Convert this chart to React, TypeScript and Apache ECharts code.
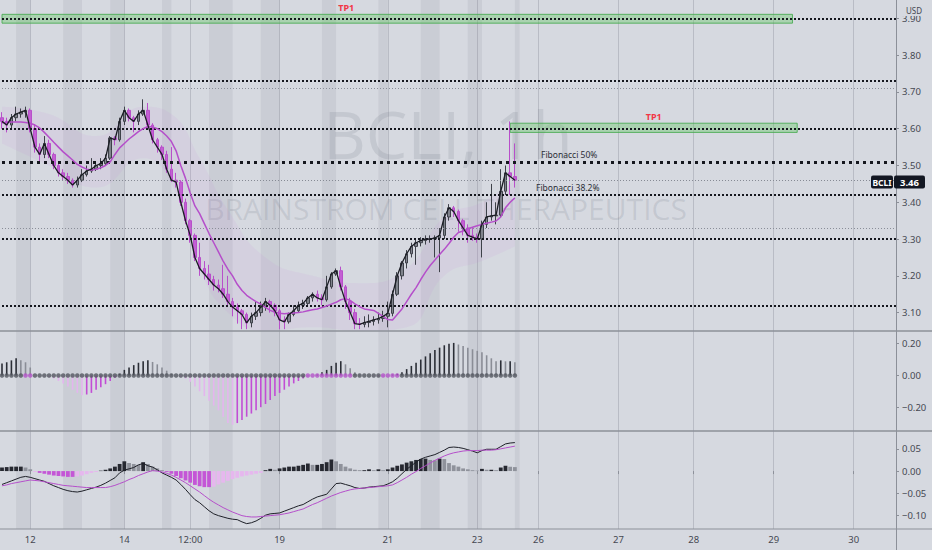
import React, { useEffect, useRef } from 'react';
import * as echarts from 'echarts';

// ---------- data ----------
const N = 191; // bar slots incl. empty future area
const firstOpen = 3.63;
const closes = [3.62,3.61,3.63,3.64,3.645,3.65,3.60,3.55,3.53,3.56, 3.53,3.50,3.48,3.47,3.46,3.447,3.46,3.475,3.485,3.49, 3.50,3.505,3.52,3.575,3.57,3.62,3.65,3.63,3.62,3.64, 3.65,3.61,3.57,3.55,3.53,3.49,3.46,3.455,3.40,3.35, 3.31,3.25,3.22,3.205,3.19,3.175,3.165,3.15,3.13,3.115, 3.105,3.095,3.072,3.09,3.10,3.115,3.13,3.12,3.105,3.08, 3.075,3.095,3.105,3.12,3.125,3.14,3.15,3.14,3.135,3.17, 3.205,3.214,3.17,3.13,3.10,3.07,3.068,3.073,3.076,3.08, 3.084,3.09,3.098,3.15,3.20,3.235,3.26,3.28,3.29,3.296, 3.30,3.30,3.303,3.31,3.36,3.385,3.375,3.35,3.33,3.31, 3.305,3.30,3.34,3.36,3.363,3.365,3.43,3.48,3.47,3.46];
const highs = [3.645,3.63,3.64,3.66,3.655,3.66,3.655,3.61,3.56,3.58, 3.57,3.535,3.51,3.49,3.48,3.465,3.47,3.49,3.50,3.52, 3.51,3.52,3.53,3.58,3.58,3.63,3.66,3.655,3.635,3.65, 3.68,3.67,3.615,3.575,3.555,3.54,3.55,3.48,3.46,3.41, 3.355,3.315,3.29,3.24,3.23,3.20,3.19,3.23,3.20,3.14, 3.125,3.11,3.10,3.10,3.13,3.13,3.14,3.135,3.125,3.11, 3.09,3.10,3.12,3.13,3.135,3.145,3.155,3.16,3.15,3.20, 3.21,3.22,3.225,3.175,3.14,3.11,3.085,3.09,3.095,3.09, 3.10,3.105,3.13,3.16,3.21,3.24,3.27,3.29,3.30,3.305, 3.31,3.31,3.31,3.33,3.37,3.395,3.39,3.38,3.355,3.34, 3.33,3.315,3.35,3.40,3.45,3.40,3.49,3.50,3.62,3.56];
const lows = [3.60,3.59,3.60,3.62,3.63,3.63,3.59,3.535,3.51,3.52, 3.52,3.49,3.47,3.46,3.45,3.44,3.44,3.455,3.47,3.48, 3.485,3.49,3.50,3.515,3.555,3.565,3.61,3.62,3.59,3.61, 3.635,3.60,3.56,3.535,3.515,3.48,3.455,3.44,3.39,3.34, 3.29,3.24,3.20,3.19,3.175,3.16,3.155,3.14,3.115,3.09, 3.07,3.055,3.055,3.06,3.08,3.09,3.105,3.10,3.09,3.055, 3.055,3.07,3.09,3.10,3.11,3.12,3.13,3.13,3.12,3.13, 3.165,3.20,3.16,3.11,3.08,3.055,3.055,3.06,3.06,3.065, 3.07,3.075,3.06,3.09,3.145,3.19,3.22,3.25,3.23,3.28, 3.285,3.29,3.25,3.21,3.30,3.35,3.36,3.32,3.31,3.29, 3.295,3.29,3.25,3.33,3.35,3.34,3.36,3.42,3.42,3.44];
const maSlow = [3.616,3.617,3.618,3.618,3.618,3.617,3.615,3.61,3.602,3.59, 3.577,3.563,3.55,3.537,3.526,3.515,3.503,3.496,3.49,3.488, 3.49,3.494,3.50,3.51,3.53,3.548,3.56,3.572,3.582,3.592, 3.60,3.606,3.605,3.60,3.592,3.58,3.565,3.54,3.50,3.465, 3.425,3.39,3.369,3.342,3.315,3.29,3.265,3.24,3.218,3.20, 3.177,3.16,3.147,3.138,3.13,3.123,3.114,3.106,3.101,3.098, 3.097,3.098,3.099,3.10,3.102,3.105,3.108,3.11,3.114,3.118, 3.123,3.128,3.135,3.138,3.133,3.124,3.116,3.11,3.108,3.106, 3.098,3.09,3.081,3.08,3.095,3.11,3.13,3.15,3.168,3.19, 3.21,3.228,3.243,3.258,3.272,3.288,3.305,3.318,3.322,3.328, 3.332,3.336,3.34,3.343,3.346,3.349,3.36,3.385,3.40,3.412];
const bandIdx = [0,10,20,30,36,42,48,56,66,76,86,94,102,109];
const bandUpper = [3.66,3.64,3.58,3.66,3.64,3.52,3.38,3.25,3.20,3.18,3.22,3.36,3.40,3.46];
const bandLower = [3.56,3.50,3.44,3.52,3.45,3.22,3.10,3.05,3.06,3.05,3.06,3.20,3.24,3.28];

const squeeze = [0.076,0.083,0.095,0.108,0.095,0.083,0.05,0.0,0.0,-0.005, -0.01,-0.02,-0.035,-0.05,-0.07,-0.09,-0.11,-0.125,-0.12,-0.11, -0.09,-0.075,-0.055,-0.035,-0.015,0.01,0.035,0.05,0.065,0.08, 0.09,0.095,0.085,0.07,0.05,0.03,0.01,0.0,-0.01,-0.02, -0.04,-0.07,-0.10,-0.13,-0.16,-0.19,-0.22,-0.26,-0.30,-0.31, -0.30,-0.28,-0.26,-0.24,-0.22,-0.20,-0.18,-0.155,-0.13,-0.11, -0.09,-0.07,-0.05,-0.035,-0.02,-0.005,0.0,0.005,0.02,0.035, 0.06,0.08,0.09,0.07,0.045,0.02,0.005,0.0,0.0,-0.005, -0.005,-0.005,0.0,0.005,0.01,0.02,0.04,0.06,0.08,0.10, 0.12,0.14,0.16,0.175,0.19,0.20,0.205,0.195,0.185,0.175, 0.165,0.155,0.146,0.127,0.108,0.089,0.095,0.089,0.089,0.083];
const squeezeDotPurple = [5,6,65,66,67,68,69,70,71,72,73,74,81,82,83,84];

const macdHist = [0.008,0.009,0.010,0.010,0.010,0.008,0.004,-0.002,-0.004,-0.006, -0.008,-0.010,-0.011,-0.012,-0.013,-0.013,-0.012,-0.010,-0.007,-0.004, -0.002,0.001,0.003,0.006,0.010,0.016,0.022,0.018,0.016,0.014, 0.020,0.016,0.010,0.006,0.002,-0.002,-0.006,-0.011,-0.016,-0.021, -0.026,-0.031,-0.034,-0.036,-0.036,-0.035,-0.030,-0.026,-0.022,-0.018, -0.015,-0.012,-0.010,-0.008,-0.006,-0.004,0.002,0.005,0.003,0.006, 0.008,0.010,0.010,0.012,0.014,0.017,0.014,0.014,0.016,0.020, 0.026,0.022,0.016,0.010,0.006,0.003,0.002,0.002,0.004,0.002, 0.004,0.002,0.004,0.008,0.012,0.015,0.019,0.022,0.025,0.027, 0.028,0.025,0.024,0.028,0.027,0.018,0.013,0.010,0.006,0.004, 0.002,0.001,0.005,0.003,0.003,0.002,0.008,0.012,0.010,0.009];
const macdLine = [-0.030,-0.026,-0.022,-0.018,-0.014,-0.012,-0.014,-0.017,-0.020,-0.023, -0.028,-0.033,-0.037,-0.041,-0.044,-0.046,-0.047,-0.045,-0.042,-0.039, -0.036,-0.032,-0.027,-0.021,-0.015,-0.004,0.002,0.005,0.008,0.014, 0.017,0.012,0.009,0.003,-0.004,-0.009,-0.014,-0.020,-0.030,-0.041, -0.053,-0.064,-0.071,-0.080,-0.089,-0.096,-0.100,-0.103,-0.106,-0.108, -0.109,-0.114,-0.118,-0.116,-0.112,-0.106,-0.099,-0.096,-0.095,-0.094, -0.090,-0.086,-0.082,-0.078,-0.075,-0.069,-0.063,-0.058,-0.055,-0.052, -0.040,-0.028,-0.027,-0.030,-0.033,-0.037,-0.039,-0.038,-0.036,-0.035, -0.034,-0.033,-0.029,-0.024,-0.016,-0.006,0.004,0.012,0.020,0.027, 0.031,0.034,0.037,0.042,0.047,0.053,0.054,0.053,0.051,0.048, 0.045,0.041,0.046,0.049,0.049,0.049,0.055,0.061,0.063,0.064];
const signalLine = [-0.033,-0.031,-0.028,-0.026,-0.024,-0.022,-0.020,-0.021,-0.022,-0.024, -0.026,-0.028,-0.030,-0.032,-0.033,-0.034,-0.035,-0.036,-0.037,-0.037, -0.037,-0.037,-0.037,-0.035,-0.032,-0.028,-0.024,-0.019,-0.015,-0.010, -0.006,-0.002,0.001,0.000,-0.002,-0.005,-0.009,-0.014,-0.020,-0.026, -0.033,-0.040,-0.047,-0.055,-0.063,-0.070,-0.076,-0.082,-0.087,-0.092, -0.096,-0.100,-0.102,-0.103,-0.103,-0.102,-0.101,-0.100,-0.099,-0.098, -0.096,-0.094,-0.091,-0.088,-0.085,-0.080,-0.075,-0.071,-0.066,-0.061, -0.056,-0.052,-0.048,-0.045,-0.042,-0.040,-0.039,-0.038,-0.037,-0.036, -0.035,-0.034,-0.033,-0.031,-0.026,-0.020,-0.014,-0.007,-0.001,0.006, 0.012,0.018,0.024,0.029,0.034,0.038,0.041,0.043,0.045,0.046, 0.046,0.046,0.047,0.047,0.047,0.048,0.050,0.052,0.054,0.056];

const tickIdx = [6, 26, 40, 59, 82, 101, 114, 131, 147, 164, 181];
const tickText = ['12', '14', '12:00', '19', '21', '23', '26', '27', '28', '29', '30'];
const stripes = [[3,6],[13,17],[23,26],[34,36],[44,49],[55,59],[68,71],[80,82],[89,93],[99,102],[109,110]];
const thickLevels = [3.90, 3.734, 3.602, 3.42, 3.304, 3.122];
const fibLevel = 3.51;
const thinLevels = [3.705, 3.326];
const lastPrice = 3.455;
const lastPriceText = '3.46';
const tpBoxes = [
  { from: 0, to: 168, top: 3.911, bottom: 3.887, labelShift: -51 },
  { from: 108, to: 169, top: 3.615, bottom: 3.59, labelShift: 0 },
];

// ---------- styling ----------
const BG = '#d6d9e0';
const AXIS = '#8c9099';
const TXT = '#454852';
const PURPLE = '#b54fca';
const FONT = 'Noto Sans';

const fmt = (v: number) => (v < 0 ? '\u2212' : '') + Math.abs(v).toFixed(2);

export default function App() {
  const ref = useRef<HTMLDivElement>(null);

  useEffect(() => {
    if (!ref.current) return;
    const chart = echarts.init(ref.current, undefined, { renderer: 'svg' });
    const cats = Array.from({ length: N }, (_, i) => String(i));
    const tickSet = new Set(tickIdx);
    const labelMap: Record<number, string> = {};
    tickIdx.forEach((t, k) => (labelMap[t] = tickText[k]));

    const candles = closes.map((c, i) => [i === 0 ? firstOpen : closes[i - 1], c, lows[i], highs[i]]);

    const sqData = squeeze.map((v, i) => {
      const prev = i === 0 ? v : squeeze[i - 1];
      let color;
      if (v >= 0) color = v >= prev ? '#2b2e36' : '#8a8d96';
      else color = Math.abs(v) > Math.abs(prev) ? '#e4b5ee' : '#c24dd5';
      return { value: v, itemStyle: { color } };
    });
    const dotData = squeeze.map((_, i) => ({
      value: [i, 0],
      itemStyle: { color: squeezeDotPurple.includes(i) ? '#b352c8' : '#53565f' },
    }));
    const histData = macdHist.map((v, i) => {
      const prev = i === 0 ? v : macdHist[i - 1];
      let color;
      if (v >= 0) color = v >= prev ? '#262830' : '#8f929b';
      else color = Math.abs(v) >= Math.abs(prev) ? '#c456d6' : '#e6b7ee';
      return { value: v, itemStyle: { color } };
    });

    const grids = [
      { left: 2, right: 36, top: 0, height: 331 },
      { left: 2, right: 36, top: 331, height: 100 },
      { left: 2, right: 36, top: 431, height: 98 },
    ];
    const xAxes = [0, 1, 2].map((k) => ({
      type: 'category',
      gridIndex: k,
      data: cats,
      boundaryGap: false,
      axisLine: { show: false },
      axisTick: {
        show: k === 2,
        interval: (i: number) => tickSet.has(i),
        length: 3,
        lineStyle: { color: AXIS },
      },
      axisLabel: {
        show: k === 2,
        interval: (i: number) => tickSet.has(i),
        formatter: (_v: string, i: number) => labelMap[i] ?? '',
        color: TXT,
        fontSize: 9.5,
        fontFamily: FONT,
        margin: 5,
      },
      splitLine: {
        show: true,
        interval: (i: number) => tickSet.has(i),
        lineStyle: { color: 'rgba(150,154,165,0.45)', width: 1 },
      },
    }));
    const yCommon = (k: number, min: number, max: number, splitNumber: number) => ({
      type: 'value',
      gridIndex: k,
      position: 'right',
      min,
      max,
      splitNumber,
      scale: true,
      splitLine: { show: false },
      axisLine: { show: true, lineStyle: { color: AXIS } },
      axisTick: { show: true, length: 3, lineStyle: { color: AXIS } },
      axisLabel: {
        color: TXT,
        fontSize: 9.5,
        fontFamily: FONT,
        margin: 6,
        showMinLabel: false,
        showMaxLabel: false,
        formatter: (v: number) => fmt(v),
      },
    });
    const yAxes = [yCommon(0, 3.05, 3.95, 9), yCommon(1, -0.35, 0.28, 3), yCommon(2, -0.13, 0.09, 4)];

    const stripeSeries = (k: number) => ({
      type: 'line',
      xAxisIndex: k,
      yAxisIndex: k,
      data: [],
      silent: true,
      z: 1,
      markArea: {
        silent: true,
        itemStyle: { color: 'rgba(120,124,138,0.13)' },
        data: stripes.map(([a, b]) => [{ xAxis: a }, { xAxis: b }]),
      },
    });

    const thick = { color: '#15171e', width: 1.8, type: [2, 2] };
    const markLines = [
      ...thickLevels.map((v) => ({ yAxis: v, lineStyle: thick })),
      { yAxis: fibLevel, lineStyle: { color: '#15171e', width: 3, type: [3, 4] } },
      ...thinLevels.map((v) => ({ yAxis: v, lineStyle: { color: '#8a8e98', width: 1, type: [1, 2] } })),
      { yAxis: lastPrice, lineStyle: { color: '#868a94', width: 1, type: [1, 2] } },
    ];

    const tpAreas = tpBoxes.map((b) => [
      {
        xAxis: b.from,
        yAxis: b.top,
        itemStyle: { color: 'rgba(110,200,110,0.42)', borderColor: 'rgba(70,170,80,0.85)', borderWidth: 1 },
        label: {
          show: true,
          formatter: 'TP1',
          position: 'top',
          distance: 2,
          offset: [b.labelShift, 0],
          color: '#f23645',
          fontSize: 9,
          fontWeight: 'bold',
          fontFamily: FONT,
        },
      },
      { xAxis: b.to, yAxis: b.bottom },
    ]);

    const option: any = {
      animation: false,
      backgroundColor: BG,
      textStyle: { fontFamily: FONT },
      grid: grids,
      xAxis: xAxes,
      yAxis: yAxes,
      series: [
        stripeSeries(0),
        stripeSeries(1),
        stripeSeries(2),
        {
          type: 'line',
          xAxisIndex: 0,
          yAxisIndex: 0,
          stack: 'band',
          data: bandIdx.map((x, k) => [x, bandLower[k]]),
          smooth: true,
          symbol: 'none',
          lineStyle: { opacity: 0 },
          silent: true,
          z: 1,
        },
        {
          type: 'line',
          xAxisIndex: 0,
          yAxisIndex: 0,
          stack: 'band',
          data: bandIdx.map((x, k) => [x, bandUpper[k] - bandLower[k]]),
          smooth: true,
          symbol: 'none',
          lineStyle: { opacity: 0 },
          areaStyle: { color: 'rgba(205,120,220,0.13)' },
          silent: true,
          z: 1,
        },
        {
          type: 'candlestick',
          xAxisIndex: 0,
          yAxisIndex: 0,
          data: candles,
          barWidth: 3,
          z: 3,
          itemStyle: {
            color: '#80838c',
            color0: '#c35fd3',
            borderColor: '#3e4149',
            borderColor0: '#b84fca',
            borderWidth: 1,
          },
          markLine: { symbol: ['none', 'none'], silent: true, label: { show: false }, data: markLines, z: 4 },
          markArea: { silent: true, data: tpAreas },
        },
        {
          type: 'line',
          xAxisIndex: 0,
          yAxisIndex: 0,
          data: maSlow,
          symbol: 'none',
          lineStyle: { color: PURPLE, width: 1.5 },
          z: 5,
        },
        {
          type: 'line',
          xAxisIndex: 0,
          yAxisIndex: 0,
          data: closes,
          symbol: 'none',
          lineStyle: { color: '#1b1d24', width: 1.3 },
          z: 5,
        },
        {
          type: 'bar',
          xAxisIndex: 1,
          yAxisIndex: 1,
          data: sqData,
          barWidth: 1.6,
          z: 3,
        },
        {
          type: 'scatter',
          xAxisIndex: 1,
          yAxisIndex: 1,
          data: dotData,
          symbolSize: 4.5,
          z: 4,
        },
        {
          type: 'bar',
          xAxisIndex: 2,
          yAxisIndex: 2,
          data: histData,
          barWidth: 3.8,
          z: 3,
        },
        {
          type: 'line',
          xAxisIndex: 2,
          yAxisIndex: 2,
          data: macdLine,
          symbol: 'none',
          lineStyle: { color: '#1e2028', width: 1 },
          z: 4,
        },
        {
          type: 'line',
          xAxisIndex: 2,
          yAxisIndex: 2,
          data: signalLine,
          symbol: 'none',
          lineStyle: { color: PURPLE, width: 1 },
          z: 4,
        },
      ],
    };
    chart.setOption(option);

    const yTag = chart.convertToPixel({ yAxisIndex: 0 }, lastPrice) as number;
    const sepStyle = { stroke: AXIS, lineWidth: 1.5 };
    chart.setOption({
      graphic: [
        {
          type: 'text', x: 448, y: 133, z: 0, silent: true,
          style: { text: 'BCLI, 1h', fontSize: 66, fontFamily: 'Open Sans', fill: 'rgba(105,110,122,0.16)', align: 'center', verticalAlign: 'middle' },
        },
        {
          type: 'text', x: 446, y: 208, z: 0, silent: true,
          style: { text: 'BRAINSTROM CELL THERAPEUTICS', fontSize: 30, fontFamily: 'Open Sans', fill: 'rgba(105,110,122,0.16)', align: 'center', verticalAlign: 'middle' },
        },
        {
          type: 'text', x: 541, y: 154, z: 50, silent: true,
          style: { text: 'Fibonacci 50%', fontSize: 8.5, fontFamily: FONT, fill: '#2a2d36', align: 'left', verticalAlign: 'middle' },
        },
        {
          type: 'text', x: 536, y: 187, z: 50, silent: true,
          style: { text: 'Fibonacci 38.2%', fontSize: 8.5, fontFamily: FONT, fill: '#2a2d36', align: 'left', verticalAlign: 'middle' },
        },
        { type: 'line', z: 100, silent: true, shape: { x1: 0, y1: 331, x2: 932, y2: 331 }, style: sepStyle },
        { type: 'line', z: 100, silent: true, shape: { x1: 0, y1: 431, x2: 932, y2: 431 }, style: sepStyle },
        { type: 'line', z: 100, silent: true, shape: { x1: 0, y1: 529, x2: 932, y2: 529 }, style: { stroke: AXIS, lineWidth: 1 } },
        { type: 'line', z: 100, silent: true, shape: { x1: 896.5, y1: 0, x2: 896.5, y2: 550 }, style: { stroke: AXIS, lineWidth: 1 } },
        { type: 'rect', z: 100, silent: true, shape: { x: 898, y: 0, width: 34, height: 16 }, style: { fill: BG } },
        {
          type: 'text', x: 914, y: 10, z: 101, silent: true,
          style: { text: 'USD', fontSize: 8, fontFamily: FONT, fill: TXT, align: 'center', verticalAlign: 'middle' },
        },
        { type: 'rect', z: 100, silent: true, shape: { x: 871, y: yTag - 6.5, width: 22, height: 13, r: 2 }, style: { fill: '#131722' } },
        {
          type: 'text', x: 882, y: yTag, z: 101, silent: true,
          style: { text: 'BCLI', fontSize: 8.5, fontWeight: 'bold', fontFamily: FONT, fill: '#ffffff', align: 'center', verticalAlign: 'middle' },
        },
        { type: 'rect', z: 100, silent: true, shape: { x: 894, y: yTag - 6.5, width: 31, height: 13, r: 2 }, style: { fill: '#131722' } },
        {
          type: 'text', x: 909.5, y: yTag, z: 101, silent: true,
          style: { text: lastPriceText, fontSize: 9.5, fontWeight: 'bold', fontFamily: FONT, fill: '#ffffff', align: 'center', verticalAlign: 'middle' },
        },
      ],
    });

    return () => chart.dispose();
  }, []);

  return <div ref={ref} style={{ position: 'fixed', left: 0, top: 0, width: 932, height: 550 }} />;
}
